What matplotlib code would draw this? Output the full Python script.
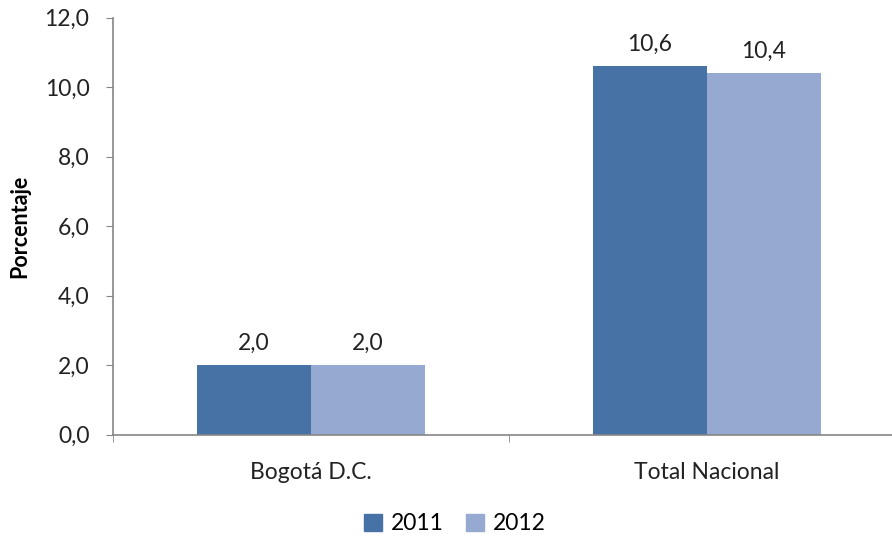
import matplotlib
matplotlib.use("Agg")
import matplotlib.pyplot as plt
from matplotlib.patches import Patch
import numpy as np

categories = ["Bogotá D.C.", "Total Nacional"]
series_names = ["2011", "2012"]
values_2011 = [2.0, 10.6]
values_2012 = [2.0, 10.4]
y_ticks = [0, 2, 4, 6, 8, 10, 12]

colors = ["#4672A6", "#95A9D1"]
plt.rcParams['font.family'] = ['Lato', 'DejaVu Sans']

fig = plt.figure(figsize=(8.92, 5.37), dpi=100)
ax = fig.add_axes([113/892, 102.3/537, 792/892, 417.2/537])

x = np.arange(len(categories))
w = 0.288
b1 = ax.bar(x - w/2, values_2011, width=w, color=colors[0], label=series_names[0])
b2 = ax.bar(x + w/2, values_2012, width=w, color=colors[1], label=series_names[1])

def fmt(v):
    return f"{v:.1f}".replace(".", ",")

fs = 16.5
for bars, vals in ((b1, values_2011), (b2, values_2012)):
    for rect, v in zip(bars, vals):
        ax.annotate(fmt(v), (rect.get_x() + rect.get_width()/2, v),
                    xytext=(0, 8), textcoords="offset points",
                    ha="center", va="bottom", fontsize=fs, color="#222222")

ax.set_xlim(-0.5, 1.5)
ax.set_ylim(0, 12)
ax.set_yticks(y_ticks)
ax.set_yticklabels([fmt(t) for t in y_ticks], fontsize=fs, color="#222222")
ax.set_xticks(x)
ax.set_xticklabels(categories, fontsize=fs, color="#222222")
ax.set_xticks([-0.5, 0.5, 1.5], minor=True)
ax.tick_params(axis="x", which="major", length=0, pad=20)
ax.tick_params(axis="x", which="minor", length=5, color="#868686", direction="out")
ax.tick_params(axis="y", length=5, color="#868686", direction="out", pad=12)

for s in ("top", "right"):
    ax.spines[s].set_visible(False)
for s in ("left", "bottom"):
    ax.spines[s].set_color("#868686")
    ax.spines[s].set_linewidth(1.2)

ax.set_ylabel("Porcentaje", fontsize=15.5, fontweight="bold", labelpad=10)

handles = [Patch(color=colors[0]), Patch(color=colors[1])]
fig.legend(handles, series_names, loc="center", bbox_to_anchor=(455/892, 1 - 524/537),
           ncol=2, frameon=False, fontsize=fs, handlelength=0.75, handleheight=0.75,
           handletextpad=0.4, columnspacing=1.0)

fig.savefig("out.png", dpi=100)
